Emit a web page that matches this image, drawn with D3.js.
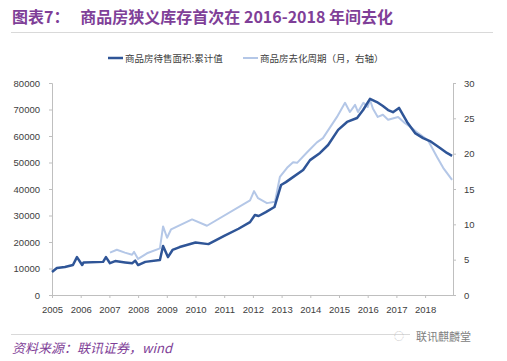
<!DOCTYPE html>
<html><head><meta charset="utf-8">
<script src="https://cdn.jsdelivr.net/npm/d3@7/dist/d3.min.js"></script>
<style>body{margin:0;background:#fff;}svg{display:block;font-family:"Noto Sans CJK SC","Noto Sans",sans-serif;}</style>
</head><body><svg id="c" width="507" height="361"></svg>
<script>
const titleText = "图表7：   商品房狭义库存首次在 2016-2018 年间去化";
const sourceText = "资料来源：联讯证券，wind";
const legendLabels = ["商品房待售面积:累计值", "商品房去化周期（月，右轴）"];
const leftTicks = [0,10000,20000,30000,40000,50000,60000,70000,80000];
const rightTicks = [0,5,10,15,20,25,30];
const xTickYears = [2005,2006,2007,2008,2009,2010,2011,2012,2013,2014,2015,2016,2017,2018];

// stock (万平方米), decimal year
const stockT = [2005.0,2005.17,2005.45,2005.73,2005.87,2006.05,2006.1,2006.78,2006.88,2007.02,2007.2,2007.55,2007.8,2007.9,2008.0,2008.25,2008.76,2008.87,2009.04,2009.2,2009.45,2010.0,2010.45,2011.0,2011.5,2011.9,2012.07,2012.2,2012.45,2012.75,2012.98,2013.15,2013.36,2013.75,2013.99,2014.34,2014.62,2014.97,2015.28,2015.63,2015.84,2016.08,2016.32,2016.53,2016.71,2016.88,2017.09,2017.37,2017.65,2017.93,2018.17,2018.52,2018.76,2018.94];
const stockV = [8700,10200,10600,11300,14300,11300,12300,12500,14300,12000,12800,12300,12000,13000,11300,12500,13200,18500,14300,17000,18100,19800,19200,22300,25000,27500,30200,29800,31300,33200,41500,42600,44200,47200,50900,53600,56600,62300,65300,66800,69800,74000,72800,71300,69800,69000,70600,65300,61100,59200,58100,55500,53600,52500];

// months of destocking, decimal year
const cycleT = [2007.02,2007.26,2007.54,2007.79,2007.86,2008.0,2008.31,2008.76,2008.87,2009.01,2009.15,2009.46,2009.88,2010.4,2011.9,2012.04,2012.18,2012.49,2012.77,2012.94,2013.19,2013.4,2013.54,2013.89,2014.23,2014.44,2014.93,2015.21,2015.38,2015.56,2015.66,2015.85,2016.0,2016.08,2016.18,2016.35,2016.53,2016.71,2017.06,2017.3,2017.55,2017.76,2018.1,2018.42,2018.63,2018.94];
const cycleV = [6.0,6.4,6.0,5.7,6.1,5.1,5.9,6.6,9.7,8.1,9.3,9.9,10.7,9.8,13.4,14.7,13.7,13.0,13.2,16.7,18.0,18.8,18.7,20.2,21.6,22.2,25.2,27.2,25.9,26.9,25.9,27.2,26.6,27.6,26.4,25.2,25.5,24.8,25.2,24.3,23.6,22.9,21.9,19.5,18.0,16.3];

const svg = d3.select("#c");
const purple = "#7F3F98";
const axisCol = "#BFBFBF";
const txtCol = "#404040";
const dark = "#2F5597";
const light = "#B4C7E7";

// title
svg.append("text").attr("x",12).attr("y",23).attr("fill",purple).attr("font-size",16).attr("font-weight","bold")
  .attr("xml:space","preserve").style("white-space","pre").text(titleText);
svg.append("line").attr("x1",11).attr("x2",493).attr("y1",32.5).attr("y2",32.5).attr("stroke","#D9D9D9").attr("stroke-width",1);

const m = {l:52, r:453, t:83, b:295};
const x = d3.scaleLinear().domain([2005, 2019]).range([m.l, m.l + 14*28.7]);
const yL = d3.scaleLinear().domain([0,80000]).range([m.b, m.t]);
const yR = d3.scaleLinear().domain([0,30]).range([m.b, m.t]);

const fs = 9.5;
// left axis
const gL = svg.append("g").attr("transform",`translate(${m.l},0)`)
  .call(d3.axisLeft(yL).tickValues(leftTicks).tickSize(3).tickPadding(9).tickFormat(d3.format("d")));
// right axis
const gR = svg.append("g").attr("transform",`translate(${m.r},0)`)
  .call(d3.axisRight(yR).tickValues(rightTicks).tickSize(3).tickPadding(8));
// bottom axis
const xAx = d3.scaleLinear().domain([2005,2019]).range([m.l, m.l + 14*28.7]);
const gB = svg.append("g").attr("transform",`translate(0,${m.b})`)
  .call(d3.axisBottom(xAx).tickValues(xTickYears).tickSize(3).tickPadding(8).tickFormat(d3.format("d")));
gB.select(".domain").attr("d", `M${m.l},0.5H${m.r}`);
[gL,gR,gB].forEach(g=>{
  g.selectAll(".domain").attr("stroke",axisCol);
  g.selectAll(".tick line").attr("stroke",axisCol);
  g.selectAll("text").attr("fill",txtCol).attr("font-size",fs).attr("font-family","'Liberation Sans Narrow','Liberation Sans',sans-serif");
});

// lines
const lineL = d3.line().x((d,i)=>x(stockT[i])).y(d=>yL(d)).curve(d3.curveLinear);
const lineR = d3.line().x((d,i)=>x(cycleT[i])).y(d=>yR(d)).curve(d3.curveLinear);
svg.append("path").datum(cycleV).attr("d",lineR).attr("fill","none").attr("stroke",light).attr("stroke-width",2).attr("stroke-linejoin","round");
svg.append("path").datum(stockV).attr("d",lineL).attr("fill","none").attr("stroke",dark).attr("stroke-width",2.5).attr("stroke-linejoin","round");

// legend
const leg = [{c:dark,w:2.5,x:108,t:legendLabels[0]},{c:light,w:2,x:243,t:legendLabels[1]}];
leg.forEach(l=>{
  svg.append("line").attr("x1",l.x).attr("x2",l.x+15).attr("y1",58).attr("y2",58).attr("stroke",l.c).attr("stroke-width",l.w);
  svg.append("text").attr("x",l.x+17).attr("y",61.5).attr("font-size",9.5).attr("fill",txtCol).text(l.t);
});

// footer
svg.append("line").attr("x1",11).attr("x2",493).attr("y1",334.5).attr("y2",334.5).attr("stroke","#D9D9D9").attr("stroke-width",1);
svg.append("text").attr("x",12).attr("y",353).attr("fill",purple).attr("font-size",13).attr("font-style","italic").text(sourceText);
svg.append("rect").attr("x",410).attr("y",330).attr("width",85).attr("height",12).attr("fill","#fff");
svg.append("text").attr("x",394).attr("y",340).attr("fill","#BBBBBB").attr("font-size",10).text("◌");
svg.append("text").attr("x",416).attr("y",341).attr("fill","#808080").attr("font-size",11).text("联讯麒麟堂");
</script></body></html>
